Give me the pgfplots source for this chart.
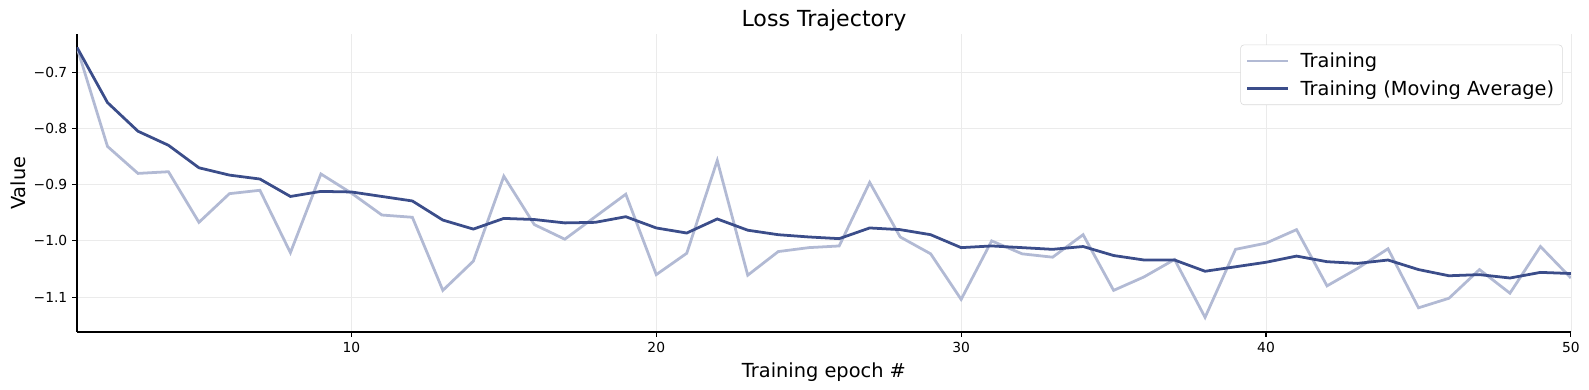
\documentclass[border=0pt]{standalone}
\usepackage{pgfplots}
\pgfplotsset{compat=1.18}
\usepackage{fontspec}
\setmainfont{DejaVu Sans}
\definecolor{madark}{RGB}{59,77,138}
\definecolor{trlight}{RGB}{178,186,212}
\definecolor{gridc}{RGB}{235,235,235}
\begin{document}
\begin{tikzpicture}
\path[use as bounding box] (-0.77in,-0.58in) rectangle (15.12in,3.32in);
\begin{axis}[
  at={(0,0)}, anchor=south west,
  scale only axis,
  width=14.94in, height=2.975in,
  xmin=1, xmax=50, ymin=-1.162, ymax=-0.633,
  axis lines*=left,
  axis line style={-, line width=0.8pt, black},
  xtick={10,20,30,40,50},
  ytick={-1.1,-1.0,-0.9,-0.8,-0.7},
  yticklabels={−1.1,−1.0,−0.9,−0.8,−0.7},
  /pgf/number format/assume math mode=true,
  tick align=outside,
  major tick length=3.5pt,
  tick style={line width=0.8pt, black},
  ticklabel style={font=\fontsize{10}{12}\selectfont},
  grid=major,
  major grid style={line width=0.6pt, gridc},
  title={Loss Trajectory},
  title style={at={(axis description cs:0.5,1)}, anchor=base, yshift=0pt, font=\fontsize{16}{19}\selectfont, inner sep=0pt},
  xlabel={Training epoch \#},
  xlabel style={at={(axis description cs:0.5,0)}, anchor=north, yshift=-0.31in, font=\fontsize{14}{17}\selectfont, inner sep=0pt},
  ylabel={Value},
  ylabel style={at={(axis description cs:0,0.5)}, anchor=center, yshift=0.59in, font=\fontsize{14}{17}\selectfont, inner sep=0pt},
  legend style={at={(rel axis cs:0.9945,0.966)}, anchor=north east, draw=black!15, rounded corners=2.5pt, font=\fontsize{14}{17}\selectfont, inner xsep=4pt, inner ysep=3.5pt, row sep=4pt, column sep=6pt},
  legend cell align=left,
  legend image code/.code={\draw[#1] (0pt,0pt) -- (29.5pt,0pt);},
]
\addplot[trlight, line width=2pt] coordinates {
(1,-0.656) (2,-0.832) (3,-0.880) (4,-0.877) (5,-0.967) (6,-0.916) (7,-0.910) (8,-1.021) (9,-0.881) (10,-0.915)
(11,-0.954) (12,-0.958) (13,-1.088) (14,-1.036) (15,-0.885) (16,-0.971) (17,-0.997) (18,-0.957) (19,-0.917) (20,-1.060)
(21,-1.022) (22,-0.857) (23,-1.061) (24,-1.019) (25,-1.012) (26,-1.009) (27,-0.896) (28,-0.993) (29,-1.023) (30,-1.104)
(31,-1.000) (32,-1.023) (33,-1.029) (34,-0.989) (35,-1.088) (36,-1.064) (37,-1.033) (38,-1.136) (39,-1.015) (40,-1.004)
(41,-0.980) (42,-1.080) (43,-1.049) (44,-1.014) (45,-1.119) (46,-1.102) (47,-1.051) (48,-1.093) (49,-1.010) (50,-1.066)
};
\addlegendentry{Training}
\addplot[madark, line width=2pt] coordinates {
(1,-0.656) (2,-0.754) (3,-0.805) (4,-0.830) (5,-0.870) (6,-0.883) (7,-0.890) (8,-0.921) (9,-0.912) (10,-0.913)
(11,-0.921) (12,-0.929) (13,-0.963) (14,-0.979) (15,-0.960) (16,-0.962) (17,-0.968) (18,-0.967) (19,-0.957) (20,-0.977)
(21,-0.986) (22,-0.961) (23,-0.981) (24,-0.989) (25,-0.993) (26,-0.996) (27,-0.977) (28,-0.980) (29,-0.989) (30,-1.012)
(31,-1.009) (32,-1.012) (33,-1.015) (34,-1.010) (35,-1.026) (36,-1.034) (37,-1.034) (38,-1.054) (39,-1.046) (40,-1.038)
(41,-1.027) (42,-1.037) (43,-1.040) (44,-1.034) (45,-1.051) (46,-1.062) (47,-1.060) (48,-1.066) (49,-1.056) (50,-1.058)
};
\addlegendentry{Training (Moving Average)}
\end{axis}
\end{tikzpicture}
\end{document}
